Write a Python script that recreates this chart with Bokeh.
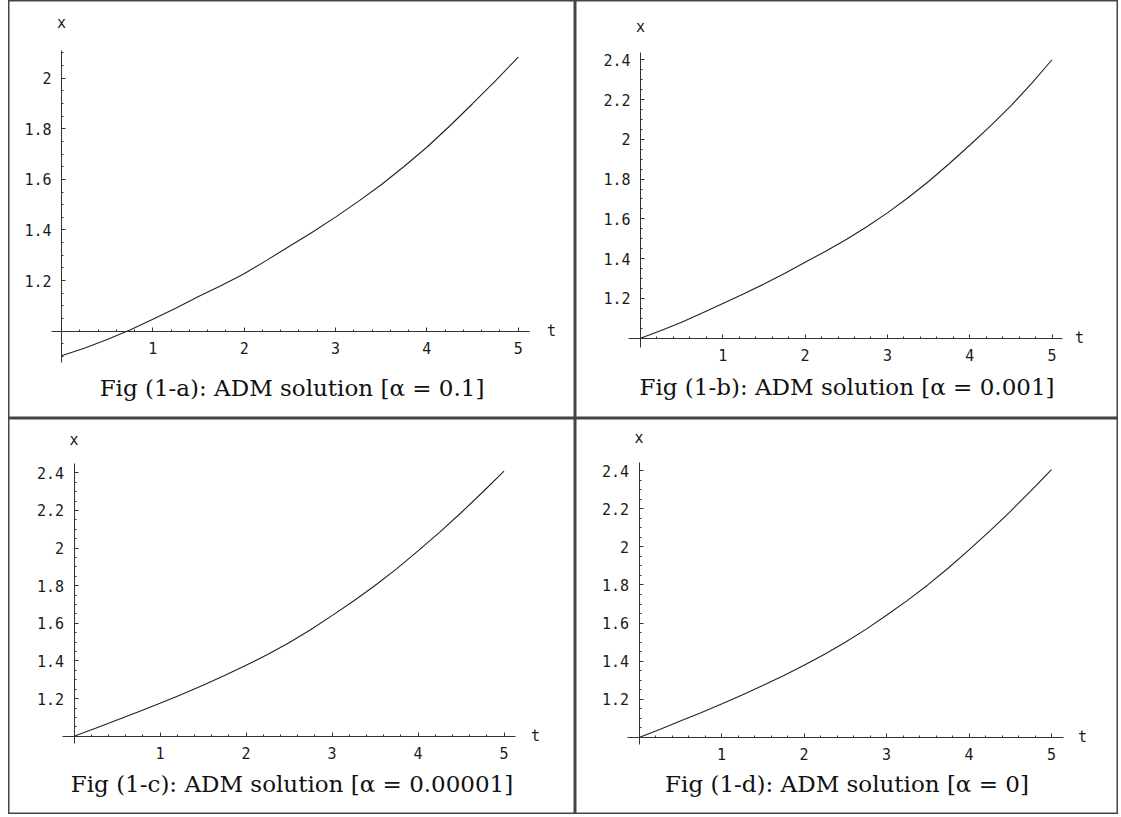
from bokeh.plotting import figure
from bokeh.models import LinearAxis, FixedTicker, CustomJSTickFormatter, Label, Spacer
from bokeh.layouts import column, row
from bokeh.embed import file_html
from bokeh.resources import INLINE

# ---- data ----
t = [0.0, 0.25, 0.5, 0.75, 1.0, 1.25, 1.5, 1.75, 2.0, 2.25, 2.5,
     2.75, 3.0, 3.25, 3.5, 3.75, 4.0, 4.25, 4.5, 4.75, 5.0]
x_a = [0.903, 0.933, 0.967, 1.005, 1.047, 1.091, 1.137, 1.181, 1.227, 1.281, 1.337,
       1.392, 1.451, 1.513, 1.579, 1.651, 1.727, 1.811, 1.899, 1.989, 2.083]
x_b = [1.000, 1.039, 1.080, 1.126, 1.174, 1.222, 1.272, 1.325, 1.382, 1.437, 1.496,
       1.560, 1.630, 1.706, 1.788, 1.877, 1.970, 2.066, 2.168, 2.280, 2.400]
x_c = [1.000, 1.042, 1.086, 1.130, 1.175, 1.222, 1.271, 1.323, 1.377, 1.435, 1.497,
       1.566, 1.641, 1.719, 1.801, 1.890, 1.985, 2.084, 2.188, 2.297, 2.409]
x_d = [1.000, 1.042, 1.086, 1.130, 1.176, 1.223, 1.272, 1.324, 1.379, 1.437, 1.499,
       1.567, 1.641, 1.718, 1.800, 1.889, 1.984, 2.082, 2.185, 2.293, 2.405]

x_ticks = [1, 2, 3, 4, 5]
y_ticks_a = [1.2, 1.4, 1.6, 1.8, 2.0]
y_ticks_bcd = [1.2, 1.4, 1.6, 1.8, 2.0, 2.2, 2.4]

captions = [
    "Fig (1-a): ADM solution [\u03b1 = 0.1]",
    "Fig (1-b): ADM solution [\u03b1 = 0.001]",
    "Fig (1-c): ADM solution [\u03b1 = 0.00001]",
    "Fig (1-d): ADM solution [\u03b1 = 0]",
]

TICK_FONT = "DejaVu Sans Mono"
CAP_FONT = "DejaVu Serif"
INK = "#1a1a1a"

fmt = CustomJSTickFormatter(code="return Number(tick.toFixed(2)).toString();")


def panel(w, h, xr, yr, xb, yb, yt, yvals, xlab_y, tlab_x, cap_y, cap):
    p = figure(width=w, height=h, x_range=xr, y_range=yr,
               x_axis_type=None, y_axis_type=None,
               toolbar_location=None, output_backend="svg",
               min_border=0, min_border_left=0, min_border_right=0,
               min_border_top=0, min_border_bottom=0,
               outline_line_color="#444444", outline_line_width=2,
               background_fill_color="white", border_fill_color="white")
    xminor = [round(0.2 * k, 2) for k in range(1, 26)]
    xminor = [v for v in xminor if xb[0] <= v <= xb[1]]
    xa = LinearAxis(fixed_location=1.0, bounds=xb,
                    ticker=FixedTicker(ticks=x_ticks, minor_ticks=xminor),
                    formatter=fmt,
                    major_tick_in=4, major_tick_out=0,
                    minor_tick_in=2, minor_tick_out=0,
                    axis_line_color="#333333", major_tick_line_color="#333333",
                    minor_tick_line_color="#333333",
                    major_label_text_font=TICK_FONT,
                    major_label_text_font_size="15px",
                    major_label_text_color=INK,
                    major_label_standoff=11)
    yminor = [round(0.05 * k, 2) for k in range(10, 60)]
    yminor = [v for v in yminor if yb[0] <= v <= yb[1]]
    ya = LinearAxis(fixed_location=0.0, bounds=yb,
                    ticker=FixedTicker(ticks=yt, minor_ticks=yminor),
                    formatter=fmt,
                    major_tick_in=4, major_tick_out=0,
                    minor_tick_in=2, minor_tick_out=0,
                    axis_line_color="#333333", major_tick_line_color="#333333",
                    minor_tick_line_color="#333333",
                    major_label_text_font=TICK_FONT,
                    major_label_text_font_size="15px",
                    major_label_text_color=INK,
                    major_label_standoff=10)
    p.add_layout(xa, "below")
    p.add_layout(ya, "left")
    p.line(t, yvals, line_color="#222222", line_width=1.1)
    p.add_layout(Label(x=0, y=xlab_y, text="x", text_align="center",
                       text_baseline="middle", text_font=TICK_FONT,
                       text_font_size="15px", text_color=INK))
    p.add_layout(Label(x=tlab_x, y=1.0, text="t", text_align="center",
                       text_baseline="middle", text_font=TICK_FONT,
                       text_font_size="15px", text_color=INK))
    p.add_layout(Label(x=(xr[0] + xr[1]) / 2, y=cap_y, text=cap,
                       text_align="center", text_baseline="middle",
                       text_font=CAP_FONT, text_font_size="23px",
                       text_color="#111111"))
    return p


pa = panel(567, 418, (-0.580, 5.627), (0.655, 2.307), (-0.11, 5.12), (0.877, 2.109),
           y_ticks_a, x_a, 2.22, 5.364, 0.7775, captions[0])
pb = panel(543, 418, (-0.790, 5.808), (0.596, 2.698), (-0.146, 5.13), (0.953, 2.438),
           y_ticks_bcd, x_b, 2.567, 5.334, 0.752, captions[1])
pc = panel(567, 396, (-0.762, 5.831), (0.584, 2.689), (-0.137, 5.13), (0.96, 2.448),
           y_ticks_bcd, x_c, 2.577, 5.366, 0.744, captions[2])
pd = panel(543, 396, (-0.770, 5.812), (0.596, 2.673), (-0.144, 5.14), (0.963, 2.44),
           y_ticks_bcd, x_d, 2.573, 5.376, 0.757, captions[3])

grid = column(row(pa, pb, spacing=0), row(pc, pd, spacing=0), spacing=0)
layout = row(Spacer(width=8, height=10), grid, spacing=0)

open("out.html", "w").write(file_html(layout, INLINE))
